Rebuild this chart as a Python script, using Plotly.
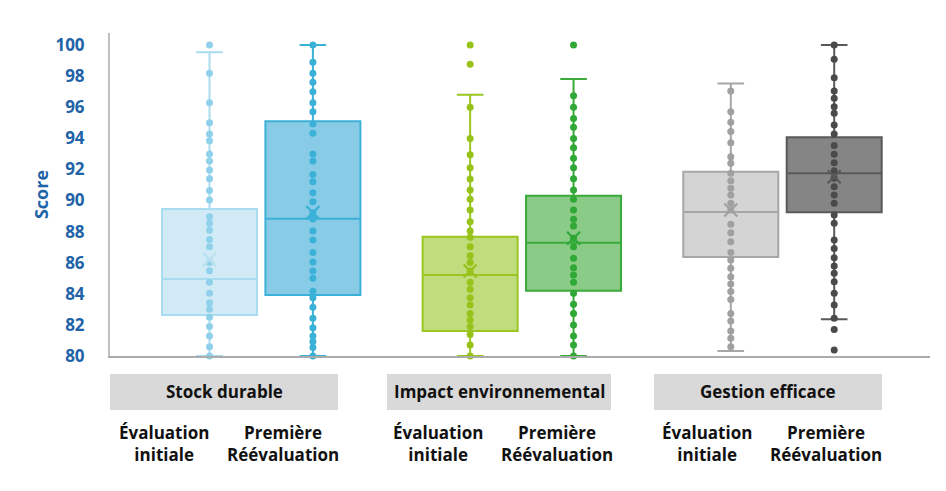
import plotly.graph_objects as go

# ---------------- data ----------------
groups = ["Stock durable", "Impact environnemental", "Gestion efficace"]
series = ["Évaluation<br>initiale", "Première<br>Réévaluation"]

# box statistics per (group, series) in order:
# SD-init, SD-reeval, IE-init, IE-reeval, GE-init, GE-reeval
q1 = [82.64, 83.92, 81.61, 84.20, 86.37, 89.24]
median = [84.95, 88.83, 85.21, 87.29, 89.26, 91.75]
q3 = [89.45, 95.09, 87.67, 90.31, 91.85, 94.06]
lowerfence = [80.0, 80.0, 80.0, 80.0, 80.32, 82.36]
upperfence = [99.53, 100.0, 96.80, 97.81, 97.53, 100.0]
means = [86.2, 89.22, 85.47, 87.57, 89.39, 91.53]

pts_sd_init = [100.0, 98.18, 96.29, 95.0, 94.28, 93.85, 92.99, 92.54, 91.96, 91.40,
               90.65, 90.03, 88.96, 88.53, 88.08, 87.50, 87.03, 86.02, 85.49, 84.74,
               84.03, 83.43, 83.0, 82.49, 81.89, 81.29, 80.60, 80.0]
pts_sd_reev = [100.0, 98.89, 98.18, 97.60, 97.0, 96.29, 95.71, 94.92, 94.32, 92.99,
               92.54, 91.68, 91.21, 90.50, 89.92, 89.22, 88.81, 88.04, 87.46, 86.65,
               86.05, 85.47, 85.0, 84.16, 83.75, 83.13, 82.42, 81.82, 81.29, 80.92,
               80.54, 80.0]
pts_ie_init = [100.0, 98.76, 95.99, 93.98, 92.95, 92.11, 91.38, 90.68, 90.08, 89.39,
               88.64, 88.04, 87.63, 87.03, 86.45, 86.02, 85.47, 84.74, 84.29, 83.75,
               83.28, 82.74, 82.32, 81.89, 81.39, 80.71, 80.0]
pts_ie_reev = [100.0, 96.74, 95.99, 95.28, 94.71, 93.98, 93.40, 92.71, 92.11, 91.40,
               90.68, 90.08, 89.39, 88.79, 88.36, 87.57, 87.03, 86.28, 85.68, 85.21,
               84.74, 84.03, 83.32, 82.74, 81.99, 81.29, 80.71, 80.0]
pts_ge_init = [97.04, 95.71, 95.03, 94.43, 93.72, 92.82, 92.39, 91.75, 91.27, 90.78,
               90.35, 89.82, 89.39, 88.47, 87.93, 87.35, 86.65, 86.17, 85.64, 85.10,
               84.63, 84.14, 83.64, 82.74, 82.25, 81.61, 81.14, 80.60]
pts_ge_reev = [100.0, 99.08, 97.90, 97.04, 96.57, 96.03, 95.61, 94.86, 94.28, 93.53,
               92.97, 92.43, 91.92, 91.43, 90.89, 90.35, 89.82, 89.07, 88.53, 87.46,
               86.92, 86.32, 85.79, 85.32, 84.78, 84.03, 83.28, 82.42, 81.71, 80.39]
points = [pts_sd_init, pts_sd_reev, pts_ie_init, pts_ie_reev, pts_ge_init, pts_ge_reev]

y_ticks = [80, 82, 84, 86, 88, 90, 92, 94, 96, 98, 100]

# ---------------- styles ----------------
fills = ["#d0eaf6", "#88cbe6", "#c1dc7c", "#8acb88", "#d4d4d4", "#858585"]
lines = ["#a9dcf0", "#3cb1d8", "#9bc520", "#3aaa3a", "#a6a6a6", "#595959"]
dots = ["#8fd0ea", "#3cb1d8", "#97c21a", "#2fa836", "#a0a0a0", "#4a4a4a"]
xcols = ["#b8e0f0", "#3cb1d8", "#97c21a", "#2fa836", "#a0a0a0", "#595959"]

FONT = "Open Sans"
BLUE = "#1f63a8"
W, H = 946, 491
ML, MR, MT, MB = 110, 16, 33, 135
PW, PH = W - ML - MR, H - MT - MB

SPACING_PX = 260.65
FIRST_CENTER_PX = 261.2
OFFSET = 51.7 / SPACING_PX
BOX_W = 95 / SPACING_PX
x0 = -(FIRST_CENTER_PX - ML) / SPACING_PX
x1 = x0 + PW / SPACING_PX


def px2x(px):
    return (px - ML) / PW


def py2y(py):
    return (H - MB - py) / PH


fig = go.Figure()

k = 0
for gi, g in enumerate(groups):
    for si, s in enumerate(series):
        pos = gi + (-OFFSET if si == 0 else OFFSET)
        fig.add_trace(go.Box(
            x=[pos], q1=[q1[k]], median=[median[k]], q3=[q3[k]],
            lowerfence=[lowerfence[k]], upperfence=[upperfence[k]],
            width=BOX_W, whiskerwidth=0.28, fillcolor=fills[k],
            line=dict(color=lines[k], width=2), boxpoints=False,
            showlegend=False, name=f"{g} – {s}"))
        k += 1

k = 0
for gi, g in enumerate(groups):
    for si, s in enumerate(series):
        pos = gi + (-OFFSET if si == 0 else OFFSET)
        fig.add_trace(go.Scatter(
            x=[pos] * len(points[k]), y=points[k], mode="markers",
            marker=dict(color=dots[k], size=7), cliponaxis=False,
            showlegend=False, hoverinfo="y"))
        fig.add_trace(go.Scatter(
            x=[pos], y=[means[k]], mode="markers",
            marker=dict(symbol="x-thin", size=13, color=xcols[k],
                        line=dict(color=xcols[k], width=2.2)),
            cliponaxis=False, showlegend=False))
        k += 1

shapes = []
annotations = []
box_px = [(110, 338), (387, 611), (654, 882)]
sub_px = [(164, 283), (438, 557), (707, 826)]
for gi, g in enumerate(groups):
    a, b = box_px[gi]
    shapes.append(dict(type="rect", xref="paper", yref="paper",
                       x0=px2x(a), x1=px2x(b), y0=py2y(410), y1=py2y(374),
                       fillcolor="#d9d9d9", line=dict(width=0), layer="below"))
    annotations.append(dict(text=f"<b>{g}</b>", xref="paper", yref="paper",
                            x=px2x((a + b) / 2), y=py2y(391), showarrow=False,
                            xanchor="center", yanchor="middle",
                            font=dict(family=FONT, size=17, color="#111111")))
    for si, s in enumerate(series):
        annotations.append(dict(text=f"<b>{s}</b>", xref="paper", yref="paper",
                                x=px2x(sub_px[gi][si]), y=py2y(443), showarrow=False,
                                xanchor="center", yanchor="middle",
                                font=dict(family=FONT, size=17, color="#111111")))

fig.update_layout(
    width=W, height=H,
    margin=dict(l=ML, r=MR, t=MT, b=MB),
    paper_bgcolor="white", plot_bgcolor="white",
    shapes=shapes, annotations=annotations,
    xaxis=dict(range=[x0, x1], showticklabels=False, showgrid=False,
               zeroline=False, showline=True, linecolor="#ababab", linewidth=2,
               ticks=""),
    yaxis=dict(range=[80, 80 + PH / 15.55], tickvals=y_ticks,
               ticktext=[f"<b>{v}</b>" for v in y_ticks],
               tickfont=dict(family=FONT, size=17, color=BLUE),
               showgrid=False, zeroline=False, showline=True,
               linecolor="#c0c0c0", linewidth=2, ticks="",
               ticklabelstandoff=20,
               title=dict(text="<b>Score</b>", standoff=2,
                          font=dict(family=FONT, size=18, color=BLUE))),
)

fig.write_html("out.html", config={"displayModeBar": False},
               post_script="document.body.style.margin='0';")
